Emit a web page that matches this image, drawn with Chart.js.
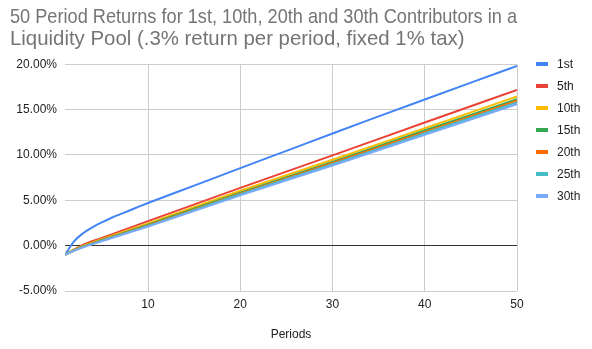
<!DOCTYPE html>
<html>
<head>
<meta charset="utf-8">
<script src="https://cdn.jsdelivr.net/npm/chart.js@4"></script>
<style>
  html, body { margin: 0; padding: 0; background: #ffffff; }
  #wrap { width: 592px; height: 349px; }
</style>
</head>
<body>
<div id="wrap"><canvas id="chart" width="592" height="349"></canvas></div>
<script>
// Title and axis text
const titleLines = [
  '50 Period Returns for 1st, 10th, 20th and 30th Contributors in a',
  'Liquidity Pool (.3% return per period, fixed 1% tax)'
];
const xAxisTitle = 'Periods';

// Series names and colours
const seriesNames = ['1st', '5th', '10th', '15th', '20th', '25th', '30th'];
const seriesColors = ['#4285f4', '#ea4335', '#fbbc04', '#34a853', '#ff6d01', '#46bdc6', '#7baaf7'];

// Return (%) of the 1st contributor by period
const firstPeriods = [1, 2, 3, 4, 5, 6, 7, 8, 9, 10, 15, 20, 25, 30, 35, 40, 45, 50];
const firstReturns = [-1.00, 0.50, 1.40, 2.05, 2.57, 3.05, 3.47, 3.88, 4.30, 4.70, 6.62, 8.55, 10.45, 12.37, 14.25, 16.12, 17.98, 19.82];

// Return (%) of the later contributors by period
const otherPeriods = [1, 2, 3, 5, 10, 20, 30, 40, 50];
const fifthReturns     = [-1.00, -0.40,  0.12, 0.86, 2.70, 6.37, 9.96, 13.58, 17.18];
const tenthReturns     = [-1.00, -0.45,  0.00, 0.72, 2.46, 6.05, 9.47, 12.95, 16.44];
const fifteenthReturns = [-1.00, -0.50, -0.07, 0.62, 2.31, 5.85, 9.24, 12.70, 16.15];
const twentiethReturns = [-1.00, -0.52, -0.11, 0.57, 2.24, 5.75, 9.11, 12.54, 15.97];
const twentyFifthReturns = [-1.00, -0.53, -0.14, 0.54, 2.17, 5.66, 8.99, 12.39, 15.80];
const thirtiethReturns = [-1.00, -0.55, -0.17, 0.50, 2.10, 5.54, 8.84, 12.22, 15.60];

// Axis ticks
const xTickValues = [10, 20, 30, 40, 50];
const yMin = -5, yMax = 20, yStep = 5;

const seriesPeriods = [firstPeriods, otherPeriods, otherPeriods, otherPeriods, otherPeriods, otherPeriods, otherPeriods];
const seriesReturns = [firstReturns, fifthReturns, tenthReturns, fifteenthReturns, twentiethReturns, twentyFifthReturns, thirtiethReturns];

Chart.defaults.font.family = '"Liberation Sans", Arial, sans-serif';
Chart.defaults.font.size = 12;
Chart.defaults.color = '#222222';

const datasets = seriesNames.map((name, i) => ({
  label: name,
  data: seriesPeriods[i].map((p, j) => ({ x: p, y: seriesReturns[i][j] })),
  borderColor: seriesColors[i],
  backgroundColor: seriesColors[i],
  borderWidth: 2,
  pointRadius: 0,
  pointHoverRadius: 0,
  cubicInterpolationMode: 'monotone',
  fill: false,
  order: seriesNames.length - i
}));

// Legend drawn to the right of the plot: short thick swatch and label per series
const sideLegend = {
  id: 'sideLegend',
  afterDraw(chart) {
    const { ctx, chartArea } = chart;
    ctx.save();
    ctx.font = '12px "Liberation Sans", Arial, sans-serif';
    ctx.textBaseline = 'middle';
    ctx.textAlign = 'left';
    chart.data.datasets.forEach((ds, i) => {
      const y = Math.round(chartArea.top + i * 22);
      const x = Math.round(chartArea.right + 19);
      ctx.fillStyle = ds.borderColor;
      ctx.fillRect(x, y - 2, 12, 4);
      ctx.fillStyle = '#222222';
      ctx.fillText(ds.label, x + 21, y + 1);
    });
    ctx.restore();
  }
};

new Chart(document.getElementById('chart'), {
  type: 'line',
  data: { datasets },
  options: {
    responsive: false,
    animation: false,
    devicePixelRatio: 1,
    layout: { padding: { left: 10, right: 75, top: 0, bottom: 0 } },
    plugins: {
      legend: { display: false },
      tooltip: { enabled: false },
      title: {
        display: true,
        text: titleLines,
        align: 'start',
        color: '#757575',
        font: { size: 20.4, weight: 'normal', lineHeight: 1.08 },
        padding: { top: 6, bottom: 14.2 }
      }
    },
    scales: {
      x: {
        type: 'linear',
        min: 1,
        max: 50,
        afterBuildTicks(scale) {
          scale.ticks = xTickValues.map(v => ({ value: v }));
        },
        afterFit(scale) { scale.height = 58; },
        grid: { color: '#cccccc', lineWidth: 1, drawTicks: false },
        border: { display: false },
        ticks: { padding: 6, color: '#222222', maxRotation: 0, callback: v => String(v) },
        title: { display: true, text: xAxisTitle, color: '#222222', font: { size: 12 }, padding: { top: 0, bottom: 7 } }
      },
      y: {
        min: yMin,
        max: yMax,
        afterFit(scale) { scale.width = 55; },
        grid: {
          color: ctx => (ctx.tick && ctx.tick.value === 0 ? '#333333' : '#cccccc'),
          lineWidth: 1,
          drawTicks: false
        },
        border: { display: false },
        ticks: {
          stepSize: yStep,
          padding: 8,
          color: '#222222',
          callback: v => v.toFixed(2) + '%'
        }
      }
    }
  },
  plugins: [sideLegend]
});
</script>
</body>
</html>
